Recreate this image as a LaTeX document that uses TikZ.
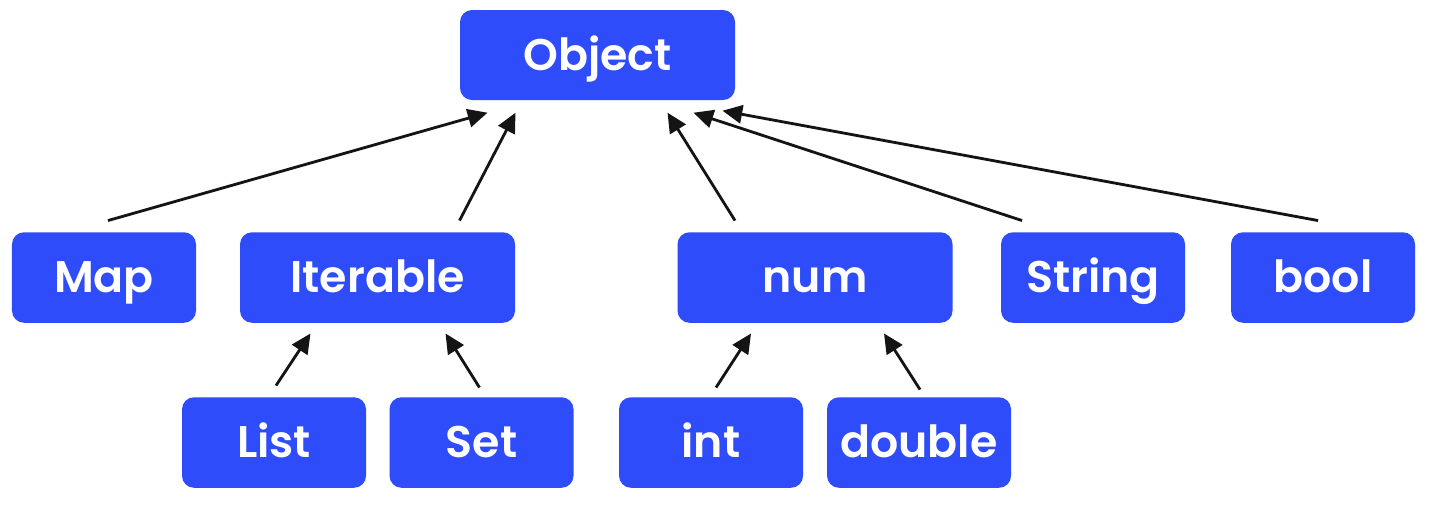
\documentclass[tikz,border=0pt]{standalone}
\usepackage{fontspec}
\setmainfont{Poppins}[BoldFont={Poppins SemiBold}]
\usetikzlibrary{arrows.meta}
\definecolor{boxblue}{RGB}{46,76,250}
\definecolor{arrowink}{RGB}{20,20,20}
\tikzset{
  typebox/.style={rectangle, rounded corners=0.12cm, fill=boxblue, text=white,
    inner sep=0pt, minimum height=0.905cm, text height=0.86em, text depth=0pt,
    font=\fontsize{12.6}{15}\selectfont\bfseries},
  narrow/.style={typebox, minimum width=1.84cm},
  wide/.style={typebox, minimum width=2.75cm},
  inherits/.style={draw=arrowink, line width=0.8pt,
    -{Triangle[length=5.6pt,width=5.2pt]}}
}
\begin{document}
\begin{tikzpicture}
\useasboundingbox[fill=white] (0,0) rectangle (14.3,5.07);
% top of the hierarchy
\node[wide, minimum height=0.9cm] (obj) at (5.975,4.52) {Object};
% direct subtypes of Object
\node[narrow] (map) at (1.04,2.295) {Map};
\node[wide] (iter) at (3.775,2.295) {Iterable};
\node[wide] (num) at (8.15,2.295) {num};
\node[narrow] (str) at (10.93,2.295) {String};
\node[narrow] (bool) at (13.23,2.295) {bool};
% collections and numbers
\node[narrow] (list) at (2.74,0.645) {List};
\node[narrow] (set) at (4.815,0.645) {Set};
\node[narrow] (int) at (7.11,0.645) {int};
\node[narrow] (dbl) at (9.19,0.645) {double};
% arrows point from subtype to supertype
\draw[inherits] ([shift={(0.04,0.11)}]map.north) -- ([shift={(-1.10,-0.12)}]obj.south);
\draw[inherits] ([shift={(0.82,0.11)}]iter.north) -- ([shift={(-0.82,-0.12)}]obj.south);
\draw[inherits] ([shift={(-0.80,0.11)}]num.north) -- ([shift={(0.70,-0.12)}]obj.south);
\draw[inherits] ([shift={(-0.71,0.11)}]str.north) -- ([shift={(0.96,-0.12)}]obj.south);
\draw[inherits] ([shift={(-0.05,0.11)}]bool.north) -- ([shift={(1.25,-0.10)}]obj.south);
\draw[inherits] ([shift={(0.02,0.11)}]list.north) -- ([shift={(-0.67,-0.10)}]iter.south);
\draw[inherits] ([shift={(-0.02,0.09)}]set.north) -- ([shift={(0.68,-0.10)}]iter.south);
\draw[inherits] ([shift={(0.05,0.09)}]int.north) -- ([shift={(-0.64,-0.10)}]num.south);
\draw[inherits] ([shift={(0.01,0.07)}]dbl.north) -- ([shift={(0.69,-0.10)}]num.south);
\end{tikzpicture}
\end{document}
